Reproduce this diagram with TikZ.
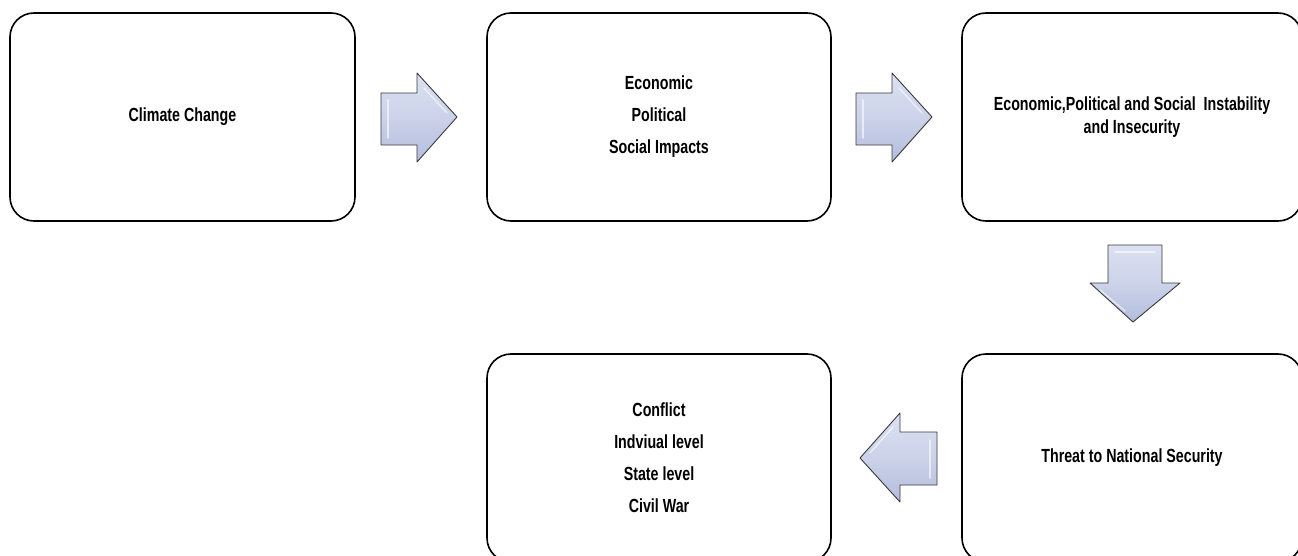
\documentclass[tikz,border=0pt]{standalone}
\usepackage{fontspec}
\setmainfont{Liberation Sans}[FakeStretch=0.75]
\usetikzlibrary{calc}
\definecolor{arrtop}{HTML}{DCE1F2}
\definecolor{arrbot}{HTML}{B3BDDC}
\definecolor{arredge}{HTML}{3A3A3A}
\begin{document}
\begin{tikzpicture}[x=1pt,y=-1pt,
  flowbox/.style={draw=black,line width=1.6pt,rounded corners=24pt,fill=white,
    align=center,font=\fontsize{19}{32}\selectfont\bfseries,inner sep=0pt},
  blockarrow/.style={draw=arredge,line width=0.9pt,line join=round,top color=arrtop,bottom color=arrbot,middle color=arrtop!60!arrbot},
  shine/.style={draw=white,line width=1.4pt,opacity=0.6,line cap=round}]
\useasboundingbox (0,0) rectangle (1298,556);
\clip (0,0) rectangle (1298,556);
\fill[white] (0,0) rectangle (1298,556);
% boxes
\node[flowbox,minimum width=345pt,minimum height=208pt] (b1) at (182.5,117) {Climate Change};
\node[flowbox,minimum width=344pt,minimum height=208pt] (b2) at (659,117) {Economic\\Political\\Social Impacts};
\node[flowbox,minimum width=340pt,minimum height=208pt] (b3) at (1132,117) {Economic,Political and Social\ \ Instability\\[-9pt]and Insecurity};
\node[flowbox,minimum width=340pt,minimum height=208pt] (b5) at (1132,458) {Threat to National Security};
\node[flowbox,minimum width=344pt,minimum height=208pt] (b4) at (659,458) {Conflict\\Indviual level\\State level\\Civil War};
% block arrows
% right arrow 1
\draw[blockarrow] (381,93) -- (417,93) -- (417,73) -- (457,117) -- (417,162) -- (417,145) -- (381,145) -- cycle;
\draw[shine] (388,100) -- (388,138);
\draw[shine] (424,88) -- (447,113);
% right arrow 2
\draw[blockarrow] (856,93) -- (892,93) -- (892,73) -- (932,117) -- (892,162) -- (892,145) -- (856,145) -- cycle;
\draw[shine] (863,100) -- (863,138);
\draw[shine] (899,88) -- (922,113);
% down arrow
\draw[blockarrow] (1108,245) -- (1162,245) -- (1162,283) -- (1180,283) -- (1133,322) -- (1090,283) -- (1108,283) -- cycle;
\draw[shine] (1115,252) -- (1155,252);
\draw[shine] (1100,290) -- (1125,311);
% left arrow
\draw[blockarrow] (937,432) -- (900,432) -- (900,413) -- (860,458) -- (900,502) -- (900,485) -- (937,485) -- cycle;
\draw[shine] (930,440) -- (930,478);
\draw[shine] (893,427) -- (870,453);
\end{tikzpicture}
\end{document}
